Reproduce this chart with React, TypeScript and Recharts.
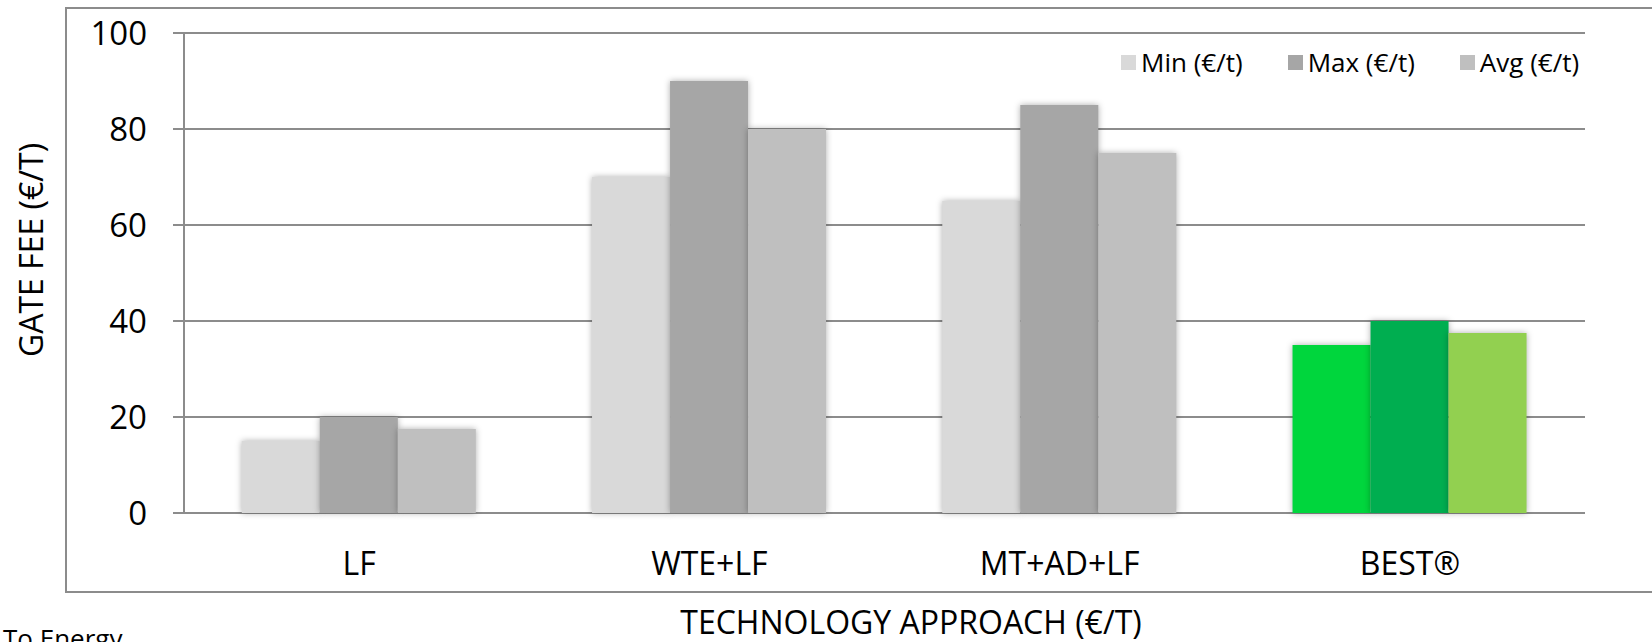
import React from 'react';
import { BarChart, Bar, XAxis, YAxis, CartesianGrid, Cell } from 'recharts';

const categories = ['LF', 'WTE+LF', 'MT+AD+LF', 'BEST®'];
const minValues = [15, 70, 65, 35];
const maxValues = [20, 90, 85, 40];
const avgValues = [17.5, 80, 75, 37.5];
const yTicks = [0, 20, 40, 60, 80, 100];
const boundaryTicks = [0, 1, 2, 3, 4];
const seriesKeys = ['min', 'max', 'avg'];
const seriesNames = ['Min (€/t)', 'Max (€/t)', 'Avg (€/t)'];
const greyColors = ['#D9D9D9', '#A6A6A6', '#BFBFBF'];
const bestColors = ['#00D63D', '#00AE50', '#92D050'];
const highlightCategory = 'BEST®';
const xTitle = 'TECHNOLOGY APPROACH (€/T)';
const yTitle = 'GATE FEE (€/T)';
const footNote = 'To Energy';

const data = categories.map((c, i) => ({
  category: c,
  min: minValues[i],
  max: maxValues[i],
  avg: avgValues[i],
}));

const FONT = '"Open Sans", "Noto Sans", sans-serif';
const LINE = '#8C8C8C';

export default function App() {
  return (
    <div
      style={{
        position: 'absolute',
        left: 0,
        top: 0,
        width: 1652,
        height: 642,
        background: '#fff',
        overflow: 'hidden',
        fontFamily: FONT,
      }}
    >
      <style>{`.recharts-bar-rectangle { filter: drop-shadow(0px 0px 3px rgba(0,0,0,0.32)); }`}</style>
      <div
        style={{
          position: 'absolute',
          left: 65,
          top: 7,
          width: 1700,
          height: 586,
          border: `2.5px solid ${LINE}`,
          boxSizing: 'border-box',
        }}
      />
      <div style={{ position: 'absolute', left: 0, top: 0 }}>
        <BarChart
          width={1652}
          height={642}
          data={data}
          margin={{ top: 33, right: 67, left: 0, bottom: 69 }}
          barCategoryGap="16.5%"
          barGap={0}
        >
          <CartesianGrid vertical={false} stroke={LINE} strokeWidth={2} strokeOpacity={1} />
          <YAxis
            domain={[0, 100]}
            ticks={yTicks}
            interval={0}
            width={184}
            tickSize={11}
            tickMargin={26}
            axisLine={{ stroke: LINE, strokeWidth: 2 }}
            tickLine={{ stroke: LINE, strokeWidth: 2 }}
            tick={{ fontSize: 33, fill: '#000', fontFamily: FONT }}
          />
          <XAxis
            xAxisId="bounds"
            type="number"
            domain={[0, 4]}
            ticks={boundaryTicks}
            interval={0}
            allowDataOverflow
            height={0}
            tickSize={14}
            tickFormatter={() => ''}
            axisLine={{ stroke: LINE, strokeWidth: 2 }}
            tickLine={{ stroke: LINE, strokeWidth: 2 }}
          />
          <XAxis
            dataKey="category"
            interval={0}
            height={60}
            tickSize={0}
            tickMargin={39}
            axisLine={false}
            tickLine={false}
            tick={{ fontSize: 32, fill: '#000', fontFamily: FONT }}
          />
          {seriesKeys.map((k, si) => (
            <Bar key={k} dataKey={k} name={seriesNames[si]} fill={greyColors[si]} isAnimationActive={false}>
              {data.map((d, i) => (
                <Cell key={i} fill={d.category === highlightCategory ? bestColors[si] : greyColors[si]} />
              ))}
            </Bar>
          ))}
        </BarChart>
      </div>
      <div
        style={{
          position: 'absolute',
          left: 1121,
          top: 49,
          height: 26,
          display: 'flex',
          alignItems: 'center',
          fontSize: 26,
          lineHeight: '26px',
          color: '#000',
          whiteSpace: 'nowrap',
        }}
      >
        {seriesNames.map((n, i) => (
          <div key={n} style={{ display: 'flex', alignItems: 'center', marginRight: i < 2 ? 45 : 0 }}>
            <div style={{ width: 15, height: 15, background: greyColors[i], marginRight: 5 }} />
            <span>{n}</span>
          </div>
        ))}
      </div>
      <svg
        width={1652}
        height={642}
        style={{ position: 'absolute', left: 0, top: 0, pointerEvents: 'none' }}
      >
        <text x={911} y={634} textAnchor="middle" fontSize={32} fontFamily={FONT} fill="#000">
          {xTitle}
        </text>
        <text
          x={43}
          y={250}
          textAnchor="middle"
          fontSize={32}
          fontFamily={FONT}
          fill="#000"
          transform="rotate(-90, 43, 250)"
        >
          {yTitle}
        </text>
        <text x={3} y={648} fontSize={26} fontFamily={FONT} fill="#000">
          {footNote}
        </text>
      </svg>
    </div>
  );
}
